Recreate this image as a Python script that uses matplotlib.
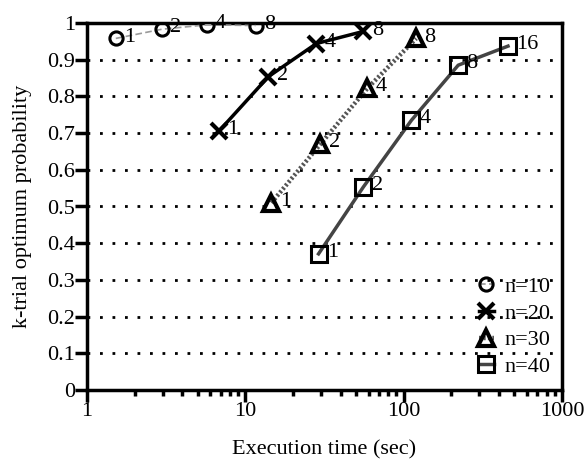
import matplotlib
matplotlib.use("Agg")
import matplotlib.pyplot as plt
from matplotlib.ticker import LogLocator, NullFormatter, FixedLocator

plt.rcParams['font.family'] = ['Liberation Serif', 'DejaVu Serif']

trials = [1, 2, 4, 8, 16]

t10 = [1.52, 2.97, 5.7, 11.6]
p10 = [0.958, 0.983, 0.995, 0.993]

t20 = [6.8, 14.0, 28.1, 55.6]
p20 = [0.705, 0.854, 0.944, 0.977]

t30 = [14.6, 29.8, 59.0, 120.0]
p30 = [0.51, 0.67, 0.822, 0.958]

t40 = [29.0, 55.6, 112.0, 221.0, 456.0]
p40 = [0.371, 0.553, 0.735, 0.885, 0.937]

series_labels = ["n=10", "n=20", "n=30", "n=40"]
yticks = [0, 0.1, 0.2, 0.3, 0.4, 0.5, 0.6, 0.7, 0.8, 0.9, 1]
ytick_labels = ["0", "0.1", "0.2", "0.3", "0.4", "0.5", "0.6", "0.7", "0.8", "0.9", "1"]
xticks = [1, 10, 100, 1000]
xtick_labels = ["1", "10", "100", "1000"]

FS = 16

fig = plt.figure(figsize=(5.88, 4.61), dpi=100)
ax = fig.add_axes([87 / 588, 71 / 461, 475 / 588, 367 / 461])

for y in yticks[1:]:
    ax.axhline(y, color='black', lw=2.0, linestyle=(0, (1, 3.5)), zorder=1)

styles = [
    dict(color='#9a9a9a', lw=1.2, linestyle=(0, (4, 2)), marker='o', ms=9.5, mfc='none', mec='black', mew=2.2),
    dict(color='black', lw=2.5, linestyle='-', marker='x', ms=12, mec='black', mew=3),
    dict(color='#555555', lw=3.2, linestyle=(0, (0.5, 0.5)), marker='^', ms=12, mfc='none', mec='black', mew=3),
    dict(color='#444444', lw=2.5, linestyle='-', marker='s', ms=12, mfc='none', mec='black', mew=2.2),
]

data = [(t10, p10), (t20, p20), (t30, p30), (t40, p40)]
for (t, p), st, lab in zip(data, styles, series_labels):
    ax.plot(t, p, label=lab, zorder=3, **st)
    for xi, yi, k in zip(t, p, trials):
        ax.annotate(str(k), (xi, yi), xytext=(6, 1), textcoords='offset points',
                    fontsize=FS, ha='left', va='center', zorder=4)

ax.set_xscale('log')
ax.set_xlim(1, 1000)
ax.set_ylim(0, 1)
ax.xaxis.set_major_locator(FixedLocator(xticks))
ax.set_xticklabels(xtick_labels)
ax.xaxis.set_minor_locator(LogLocator(base=10, subs=range(2, 10)))
ax.xaxis.set_minor_formatter(NullFormatter())
ax.set_yticks(yticks)
ax.set_yticklabels(ytick_labels)

ax.tick_params(axis='both', which='major', direction='out', length=8.5, width=2.5,
               labelsize=FS, top=False, right=False)
ax.tick_params(axis='x', which='minor', direction='out', length=4.5, width=2.5, top=False)
ax.tick_params(axis='x', which='major', pad=0)
ax.tick_params(axis='y', which='major', pad=0)

for s in ax.spines.values():
    s.set_linewidth(2.5)

ax.set_xlabel('Execution time (sec)', fontsize=FS, labelpad=14)
ax.set_ylabel('k-trial optimum probability', fontsize=FS, labelpad=11)

leg = ax.legend(loc='lower right', bbox_to_anchor=(0.975, 0.035), frameon=False, fontsize=FS,
                handlelength=0.7, handletextpad=0.45, labelspacing=0.28, borderaxespad=0,
                borderpad=0, markerscale=1.0)

fig.savefig('out.png', dpi=100)
